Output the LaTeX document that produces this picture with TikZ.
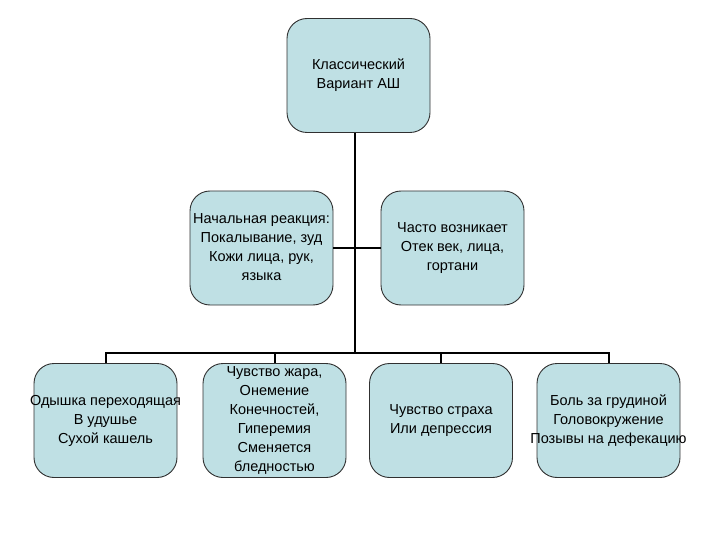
\documentclass[tikz,border=0pt]{standalone}
\usepackage{fontspec}
\setmainfont{Liberation Sans}
\definecolor{boxfill}{HTML}{BFE0E4}
\definecolor{boxline}{HTML}{303030}
\newcommand{\cardtext}[1]{\raisebox{-3pt}{\makebox[0pt]{\begin{tabular}{@{}c@{}}#1\end{tabular}}}}
\begin{document}
\begin{tikzpicture}[x=1pt,y=-1pt,
  card/.style={draw=boxline,line width=0.9pt,fill=boxfill,rounded corners=20pt,
    minimum width=143pt,minimum height=114pt,inner sep=0pt,align=center,
    font=\fontsize{14.5}{19}\selectfont},
  link/.style={draw=black,line width=2pt}]
\useasboundingbox (0,0) rectangle (720,540);
\node[card] (top) at (358.5,75.5) {\cardtext{Классический\\Вариант АШ}};
\node[card] (ml) at (261.5,248) {\cardtext{Начальная реакция:\\Покалывание, зуд\\Кожи лица, рук,\\языка}};
\node[card] (mr) at (452.5,248) {\cardtext{Часто возникает\\Отек век, лица,\\гортани}};
\node[card] (b1) at (105.5,420.5) {\cardtext{Одышка переходящая\\В удушье\\Сухой кашель}};
\node[card] (b2) at (274.5,420.5) {\cardtext{Чувство жара,\\Онемение\\Конечностей,\\Гиперемия\\Сменяется\\бледностью}};
\node[card] (b3) at (441,420.5) {\cardtext{Чувство страха\\Или депрессия}};
\node[card] (b4) at (608.5,420.5) {\cardtext{Боль за грудиной\\Головокружение\\Позывы на дефекацию}};
\coordinate (j) at (355,353);
\coordinate (s) at (355,248);
\draw[link] (355,133) -- (j);
\draw[link] (ml.east) -- (s) -- (mr.west);
\draw[link] (b1.north) -- (b1.north |- j) -- (b4.north |- j) -- (b4.north);
\draw[link] (b2.north) -- (b2.north |- j);
\draw[link] (b3.north) -- (b3.north |- j);
\end{tikzpicture}
\end{document}
